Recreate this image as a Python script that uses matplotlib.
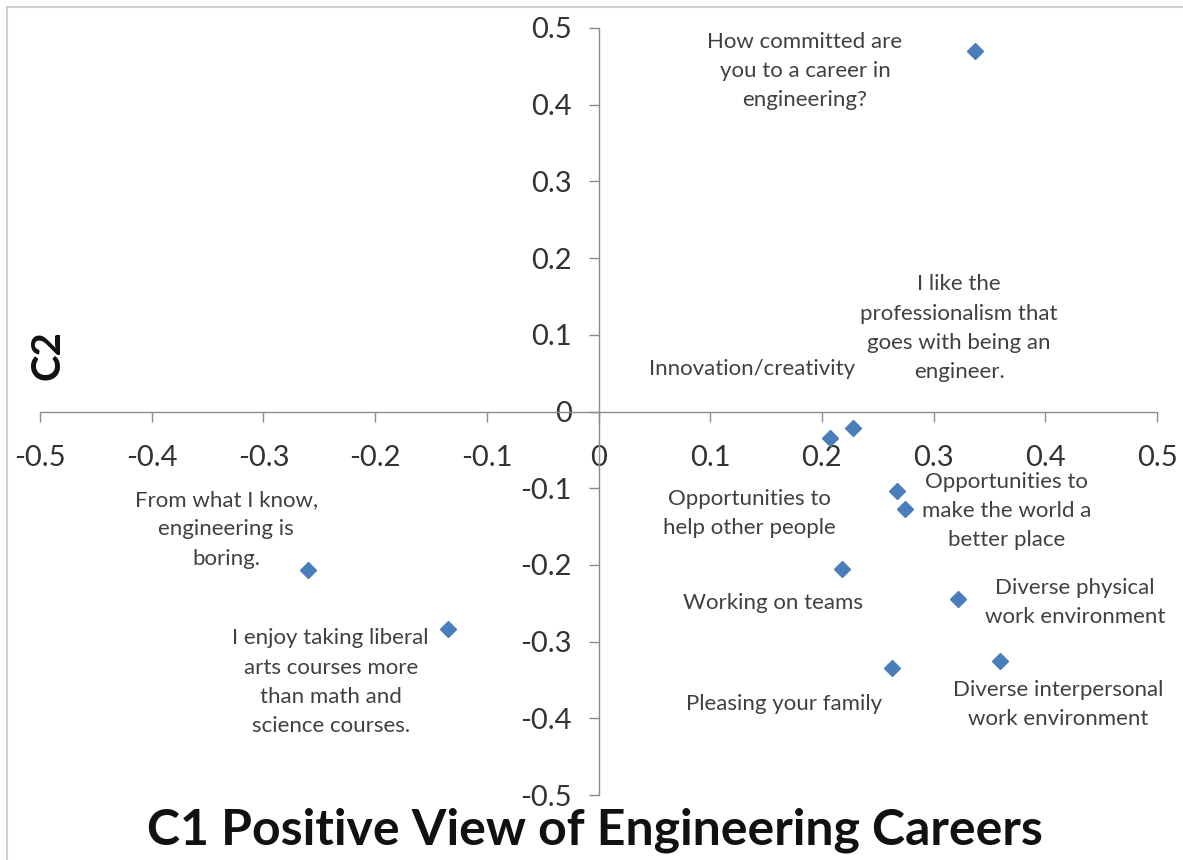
import matplotlib
matplotlib.use("Agg")
import matplotlib.pyplot as plt
from matplotlib.lines import Line2D

plt.rcParams['font.family'] = ['Lato', 'DejaVu Sans']

# factor loadings
c1 = [0.337, 0.207, 0.228, 0.267, 0.274, 0.218, 0.322, 0.263, 0.359, -0.260, -0.135]
c2 = [0.470, -0.035, -0.022, -0.103, -0.127, -0.205, -0.245, -0.335, -0.325, -0.207, -0.284]
labels = [
    "How committed are\nyou to a career in\nengineering?",
    "Innovation/creativity",
    "I like the\nprofessionalism that\ngoes with being an\nengineer.",
    "Opportunities to\nhelp other people",
    "Opportunities to\nmake the world a\nbetter place",
    "Working on teams",
    "Diverse physical\nwork environment",
    "Pleasing your family",
    "Diverse interpersonal\nwork environment",
    "From what I know,\nengineering is\nboring.",
    "I enjoy taking liberal\narts courses more\nthan math and\nscience courses.",
]
# label offsets from each point, in pixels
offsets = [(-170, -20), (-78, 69), (106, 100), (-147, -23), (102, -2), (-69, -34),
           (117, -3), (-108, -36), (59, -44), (-82, 41), (-117, -53)]
ticks = [-0.5, -0.4, -0.3, -0.2, -0.1, 0, 0.1, 0.2, 0.3, 0.4, 0.5]
tick_text = ["-0.5", "-0.4", "-0.3", "-0.2", "-0.1", "0", "0.1", "0.2", "0.3", "0.4", "0.5"]

fig = plt.figure(figsize=(11.83, 8.6), dpi=100)
ax = fig.add_axes([40 / 1183, 1 - 795 / 860, 1117 / 1183, 767 / 860])

ax.plot(c1, c2, linestyle='none', marker='D', markersize=8.5, color='#4a7ebb')

for x, y, lab, off in zip(c1, c2, labels, offsets):
    ax.annotate(lab, (x, y), xytext=off, textcoords='offset pixels',
                ha='center', va='center', fontsize=16, color='#404040',
                linespacing=1.58)

ax.set_xlim(-0.5, 0.5)
ax.set_ylim(-0.5, 0.5)
ax.spines['left'].set_position(('data', 0))
ax.spines['bottom'].set_position(('data', 0))
ax.spines['top'].set_visible(False)
ax.spines['right'].set_visible(False)
for s in ['left', 'bottom']:
    ax.spines[s].set_color('#8c8c8c')
    ax.spines[s].set_linewidth(1.0)

ax.set_xticks(ticks)
ax.set_xticklabels(tick_text)
ax.set_yticks(ticks)
ax.set_yticklabels(tick_text)
ax.tick_params(axis='both', direction='out', length=7, width=1, color='#8c8c8c',
               labelsize=21, labelcolor='#333333')
ax.tick_params(axis='x', pad=17)
ax.tick_params(axis='y', pad=12)
ax.patch.set_alpha(0)

fig.text(595 / 1183, 1 - 830 / 860, "C1 Positive View of Engineering Careers",
         ha='center', va='center', fontsize=36, fontweight='bold', color='#111111')
fig.text(48 / 1183, 1 - 355 / 860, "C2", rotation=90, ha='center', va='center',
         fontsize=29, fontweight='bold', color='#111111')

# chart area border (top and left edges visible)
fig.add_artist(Line2D([7 / 1183, 1], [1 - 7 / 860, 1 - 7 / 860],
                      transform=fig.transFigure, color='#d0d0d0', lw=1.5))
fig.add_artist(Line2D([7 / 1183, 7 / 1183], [0, 1 - 7 / 860],
                      transform=fig.transFigure, color='#d0d0d0', lw=1.5))

fig.savefig('out.png', dpi=100)
